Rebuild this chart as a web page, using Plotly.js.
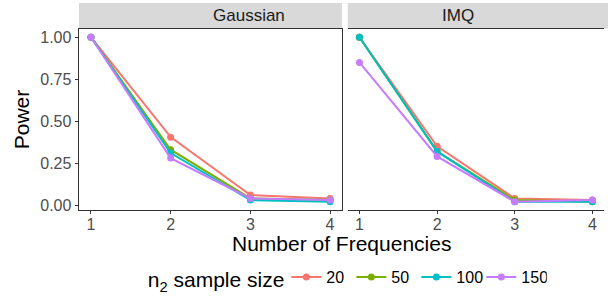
<!DOCTYPE html>
<html><head><meta charset="utf-8">
<script src="https://cdn.plot.ly/plotly-3.0.1.min.js"></script>
<style>body{margin:0;padding:0;background:#fff}#chart{width:608px;height:302px}</style>
</head><body><div id="chart"></div>
<script>
const frequencies = [1, 2, 3, 4];
const panels = ["Gaussian", "IMQ"];
const sampleSizes = ["20", "50", "100", "150"];
const colors = ["#F8766D", "#7CAE00", "#00BFC4", "#C77CFF"];
const gaussian20  = [1.00, 0.405, 0.06, 0.04];
const gaussian50  = [1.00, 0.33, 0.04, 0.03];
const gaussian100 = [1.00, 0.31, 0.03, 0.02];
const gaussian150 = [1.00, 0.28, 0.04, 0.03];
const imq20  = [1.00, 0.35, 0.04, 0.03];
const imq50  = [1.00, 0.32, 0.03, 0.02];
const imq100 = [1.00, 0.32, 0.02, 0.02];
const imq150 = [0.85, 0.29, 0.02, 0.03];
const gaussianSeries = [gaussian20, gaussian50, gaussian100, gaussian150];
const imqSeries = [imq20, imq50, imq100, imq150];

const traces = [];
[gaussianSeries, imqSeries].forEach((series, p) => {
  series.forEach((vals, i) => {
    traces.push({
      x: frequencies, y: vals, type: "scatter", mode: "lines+markers",
      name: sampleSizes[i], legendgroup: sampleSizes[i], showlegend: p === 0,
      xaxis: p === 0 ? "x" : "x2", yaxis: "y",
      line: {color: colors[i], width: 2},
      marker: {color: colors[i], size: 7}
    });
  });
});

const FONT = "Liberation Sans, Arial, sans-serif";
const axisCommon = {
  showgrid: false, zeroline: false, showline: true, mirror: true,
  linecolor: "#333333", linewidth: 1.4, ticks: "outside", ticklen: 3,
  tickcolor: "#333333", tickfont: {family: FONT, size: 16, color: "#4D4D4D"}
};
const xCommon = {range: [0.85, 4.15], tickvals: frequencies, ticktext: frequencies.map(String), ticklabelstandoff: -4};
const stripTop = (210 - 3) / 181, stripBot = (210 - 28.5) / 181;
const layout = {
  width: 608, height: 302,
  margin: {l: 79, r: 4, t: 29, b: 92, autoexpand: false},
  paper_bgcolor: "#fff", plot_bgcolor: "#fff",
  font: {family: FONT, color: "#1a1a1a"},
  xaxis: Object.assign({}, axisCommon, xCommon, {domain: [0, 0.501]}),
  xaxis2: Object.assign({}, axisCommon, xCommon, {domain: [0.512, 1]}),
  yaxis: Object.assign({}, axisCommon, {range: [-0.029, 1.049], tickvals: [0, 0.25, 0.5, 0.75, 1], ticktext: ["0.00", "0.25", "0.50", "0.75", "1.00"],
    title: {text: "Power", font: {family: FONT, size: 21, color: "#000"}, standoff: 5}}),
  shapes: [
    {type: "rect", xref: "paper", yref: "paper", x0: 0, x1: 0.501, y0: stripBot, y1: stripTop, fillcolor: "#D9D9D9", line: {width: 0}, layer: "below"},
    {type: "rect", xref: "paper", yref: "paper", x0: 0.512, x1: 1.01, y0: stripBot, y1: stripTop, fillcolor: "#D9D9D9", line: {width: 0}, layer: "below"}
  ],
  annotations: [
    {text: panels[0], xref: "paper", yref: "paper", x: 0.2505, y: (stripTop + stripBot) / 2, showarrow: false, yanchor: "middle", font: {family: FONT, size: 17, color: "#1A1A1A"}},
    {text: panels[1], xref: "paper", yref: "paper", x: 0.756, y: (stripTop + stripBot) / 2, showarrow: false, yanchor: "middle", font: {family: FONT, size: 17, color: "#1A1A1A"}},
    {text: "Number of Frequencies", xref: "paper", yref: "paper", x: 0.5, y: (210 - 243) / 181, showarrow: false, yanchor: "middle", font: {family: FONT, size: 21, color: "#000"}}
  ],
  legend: {
    orientation: "h", x: 0.131 - 8 / 525, xanchor: "left", y: (210 - 279) / 181, yanchor: "middle",
    title: {text: "n<sub>2</sub> sample size", side: "left", font: {family: FONT, size: 21, color: "#000"}},
    font: {family: FONT, size: 16, color: "#000"}, itemwidth: 30, tracegroupgap: 0,
    bgcolor: "rgba(0,0,0,0)", bordercolor: "rgba(0,0,0,0)", borderwidth: 6,
    entrywidth: 20, entrywidthmode: "pixels"
  },
  showlegend: true
};
Plotly.newPlot("chart", traces, layout, {displayModeBar: false, staticPlot: true});
</script></body></html>
